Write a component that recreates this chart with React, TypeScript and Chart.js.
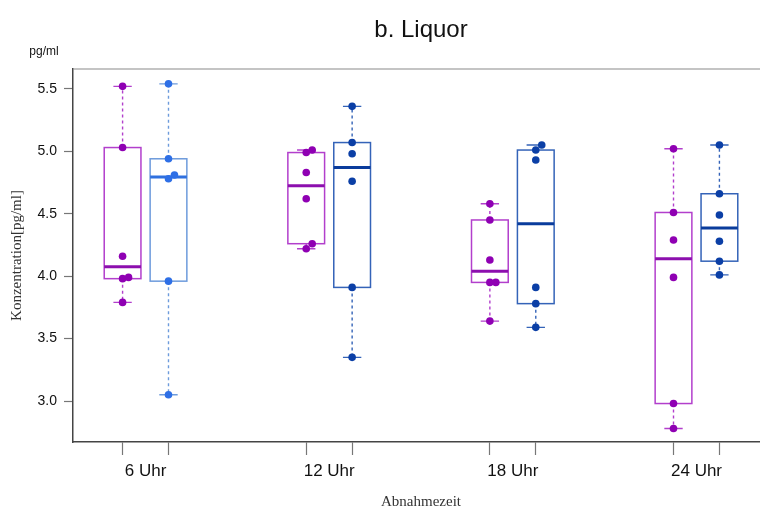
import React, { useEffect, useRef } from "react";
import { Chart, registerables } from "chart.js";

Chart.register(...registerables);

// Sampling times (one pair of boxes each)
const groups = ["6 Uhr", "12 Uhr", "18 Uhr", "24 Uhr"];
// Box positions on the x scale: first series, second series per group
const magentaPositions = [1, 5, 9, 13];
const bluePositions = [2, 6, 10, 14];
// Concentrations in pg/ml, per time point
const magentaValues = [
  [5.52, 5.03, 4.16, 3.99, 3.98, 3.79],
  [5.01, 4.99, 4.83, 4.62, 4.26, 4.22],
  [4.58, 4.45, 4.13, 3.95, 3.95, 3.64],
  [5.02, 4.51, 4.29, 3.99, 2.98, 2.78],
];
const blueValues = [
  [5.54, 4.94, 4.81, 4.78, 3.96, 3.05],
  [5.36, 5.07, 4.98, 4.76, 3.91, 3.35],
  [5.05, 5.01, 4.93, 3.91, 3.78, 3.59],
  [5.05, 4.66, 4.49, 4.28, 4.12, 4.01],
];
const yTicks = [3.0, 3.5, 4.0, 4.5, 5.0, 5.5];

const MAGENTA = { point: "#8f00b3", box: "#b23fcc", median: "#8c0fae" };
const BLUE_LIGHT = { point: "#2e6fe6", box: "#6d9bdc", median: "#2f70df" };
const BLUE_DARK = { point: "#0b3fa6", box: "#3463b8", median: "#0a3c9c" };

type Box = { pos: number; values: number[]; color: typeof MAGENTA };

const boxes: Box[] = [];
groups.forEach((_, i) => {
  boxes.push({ pos: magentaPositions[i], values: magentaValues[i], color: MAGENTA });
  boxes.push({ pos: bluePositions[i], values: blueValues[i], color: i === 0 ? BLUE_LIGHT : BLUE_DARK });
});

// Tukey five-number summary (as used by R's boxplot)
function fivenum(vals: number[]) {
  const x = [...vals].sort((a, b) => a - b);
  const n = x.length;
  const n4 = Math.floor((n + 3) / 2) / 2;
  const d = [1, n4, (n + 1) / 2, n + 1 - n4, n];
  return d.map((k) => 0.5 * (x[Math.floor(k) - 1] + x[Math.ceil(k) - 1]));
}

// Points that nearly coincide get nudged sideways so both stay visible
function jitterFor(values: number[]) {
  return values.map((v, i) =>
    values.some((w, j) => j !== i && Math.abs(w - v) < 0.06 && (v > w || (v === w && i > j))) ? 0.13 : 0
  );
}

const boxPlugin = {
  id: "boxes",
  beforeDatasetsDraw(chart: any) {
    const { ctx, scales } = chart;
    const xs = scales.x;
    const ys = scales.y;
    boxes.forEach((b) => {
      const [mn, q1, med, q3, mx] = fivenum(b.values);
      const xc = xs.getPixelForValue(b.pos);
      const x0 = xs.getPixelForValue(b.pos - 0.4);
      const x1 = xs.getPixelForValue(b.pos + 0.4);
      const c0 = xs.getPixelForValue(b.pos - 0.2);
      const c1 = xs.getPixelForValue(b.pos + 0.2);
      const yq1 = ys.getPixelForValue(q1);
      const yq3 = ys.getPixelForValue(q3);
      ctx.save();
      ctx.strokeStyle = b.color.box;
      // whiskers
      ctx.lineWidth = 1.4;
      ctx.setLineDash([3, 3]);
      ctx.beginPath();
      ctx.moveTo(xc, yq3);
      ctx.lineTo(xc, ys.getPixelForValue(mx));
      ctx.moveTo(xc, yq1);
      ctx.lineTo(xc, ys.getPixelForValue(mn));
      ctx.stroke();
      ctx.setLineDash([]);
      // caps
      ctx.beginPath();
      ctx.moveTo(c0, ys.getPixelForValue(mx));
      ctx.lineTo(c1, ys.getPixelForValue(mx));
      ctx.moveTo(c0, ys.getPixelForValue(mn));
      ctx.lineTo(c1, ys.getPixelForValue(mn));
      ctx.stroke();
      // box
      ctx.fillStyle = "#ffffff";
      ctx.fillRect(x0, yq3, x1 - x0, yq1 - yq3);
      ctx.lineWidth = 1.5;
      ctx.strokeRect(x0, yq3, x1 - x0, yq1 - yq3);
      // median
      ctx.strokeStyle = b.color.median;
      ctx.lineWidth = 3;
      ctx.beginPath();
      const ym = ys.getPixelForValue(med);
      ctx.moveTo(x0, ym);
      ctx.lineTo(x1, ym);
      ctx.stroke();
      ctx.restore();
    });
  },
  afterDraw(chart: any) {
    const { ctx, chartArea } = chart;
    ctx.save();
    // top and right frame lines
    ctx.strokeStyle = "#8a8a8a";
    ctx.lineWidth = 1.2;
    ctx.beginPath();
    ctx.moveTo(chartArea.left, chartArea.top);
    ctx.lineTo(chartArea.right, chartArea.top);
    ctx.lineTo(chartArea.right, chartArea.bottom);
    ctx.stroke();
    // texts
    ctx.fillStyle = "#111111";
    ctx.textAlign = "center";
    ctx.textBaseline = "middle";
    ctx.font = "24px 'Liberation Sans', Arial, sans-serif";
    ctx.fillText("b. Liquor", (chartArea.left + chartArea.right) / 2, 30);
    ctx.font = "12px 'Liberation Sans', Arial, sans-serif";
    ctx.fillText("pg/ml", 44, 52);
    ctx.fillStyle = "#333333";
    ctx.font = "15px 'Liberation Serif', 'Times New Roman', serif";
    ctx.fillText("Abnahmezeit", (chartArea.left + chartArea.right) / 2, 502);
    ctx.translate(17, (chartArea.top + chartArea.bottom) / 2);
    ctx.rotate(-Math.PI / 2);
    ctx.fillText("Konzentration[pg/ml]", 0, 0);
    ctx.restore();
  },
};

export default function App() {
  const ref = useRef<HTMLCanvasElement | null>(null);

  useEffect(() => {
    if (!ref.current) return;
    const datasets = boxes.map((b) => {
      const jit = jitterFor(b.values);
      return {
        type: "scatter" as const,
        data: b.values.map((v, i) => ({ x: b.pos + jit[i], y: v })),
        pointRadius: 3.8,
        pointHoverRadius: 3.8,
        pointBackgroundColor: b.color.point,
        pointBorderColor: b.color.point,
        pointBorderWidth: 0,
      };
    });
    const tickPositions = boxes.map((b) => b.pos).sort((a, b) => a - b);
    const chart = new Chart(ref.current, {
      type: "scatter",
      data: { datasets },
      plugins: [boxPlugin],
      options: {
        animation: false,
        responsive: false,
        events: [],
        layout: { padding: { top: 69, right: 11, bottom: 0, left: 0 } },
        plugins: { legend: { display: false }, tooltip: { enabled: false }, title: { display: false } },
        scales: {
          x: {
            type: "linear",
            min: -0.08,
            max: 15.08,
            afterBuildTicks: (s: any) => {
              s.ticks = tickPositions.map((v) => ({ value: v }));
            },
            afterFit: (s: any) => {
              s.height = 72;
            },
            grid: { drawOnChartArea: false, tickLength: 13, color: "#777777", tickWidth: 1.2 },
            border: { color: "#444444", width: 1.5 },
            ticks: {
              autoSkip: false,
              maxRotation: 0,
              labelOffset: 23,
              padding: 6,
              color: "#111111",
              font: { family: "'Liberation Sans', Arial, sans-serif", size: 17 },
              callback: (v: any) => {
                const idx = magentaPositions.indexOf(Number(v));
                return idx >= 0 ? groups[idx] : "";
              },
            },
          },
          y: {
            type: "linear",
            min: 2.672,
            max: 5.659,
            afterBuildTicks: (s: any) => {
              s.ticks = yTicks.map((v) => ({ value: v }));
            },
            afterFit: (s: any) => {
              s.width = 73;
            },
            grid: { drawOnChartArea: false, tickLength: 9, color: "#777777", tickWidth: 1.2 },
            border: { color: "#444444", width: 1.5 },
            ticks: {
              padding: 7,
              color: "#111111",
              font: { family: "'Liberation Sans', Arial, sans-serif", size: 14 },
              callback: (v: any) => Number(v).toFixed(1),
            },
          },
        },
      },
    });
    return () => chart.destroy();
  }, []);

  return (
    <div
      style={{
        position: "fixed",
        left: 0,
        top: 0,
        width: 760,
        height: 514,
        overflow: "hidden",
        background: "#ffffff",
      }}
    >
      <canvas ref={ref} width={780} height={514} style={{ display: "block" }} />
    </div>
  );
}
